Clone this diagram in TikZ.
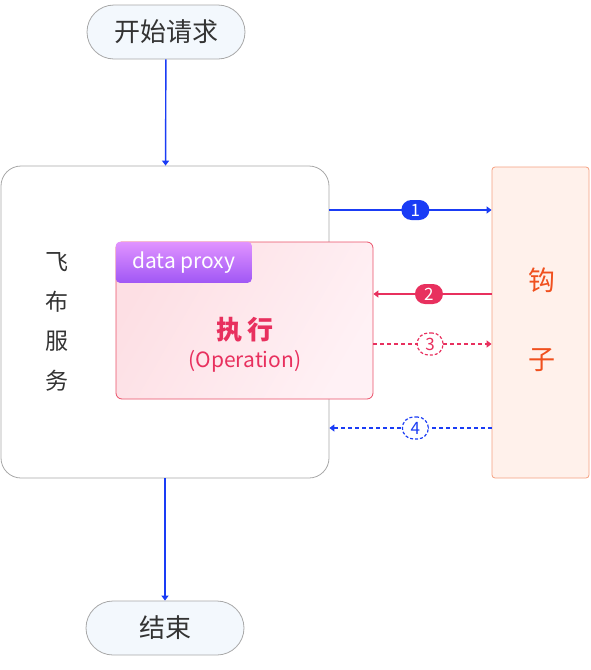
\documentclass[tikz,border=0pt]{standalone}
\usepackage{fontspec}
\setmainfont{Noto Sans CJK SC}
\usetikzlibrary{arrows.meta,positioning}
\definecolor{grayline}{HTML}{A8A8A8}
\definecolor{pillfill}{HTML}{F3F8FD}
\definecolor{darktext}{HTML}{333333}
\definecolor{flowblue}{HTML}{1A3CF5}
\definecolor{flowred}{HTML}{E8305E}
\definecolor{execline}{HTML}{EA5068}
\definecolor{pinkleft}{HTML}{FDDFE4}
\definecolor{pinkright}{HTML}{FFF1F5}
\definecolor{purpletop}{HTML}{E193FF}
\definecolor{purplebot}{HTML}{A057F5}
\definecolor{hookfill}{HTML}{FFF1EB}
\definecolor{hookline}{HTML}{F5A080}
\definecolor{hooktext}{HTML}{F0501E}

\begin{document}
\begin{tikzpicture}[x=1pt,y=-1pt,
  pill/.style={draw=grayline,line width=0.8pt,fill=pillfill,rounded corners=27pt,
    minimum width=158pt,minimum height=54pt,text=darktext,font=\fontsize{26}{30}\selectfont},
  flow/.style={line width=1.4pt,-{Triangle[length=5pt,width=7pt]}},
  badge/.style={rounded corners=10pt,minimum width=28pt,minimum height=20pt,inner sep=0pt,
    text=white,font=\fontsize{17}{18}\selectfont},
  dashbadge/.style={badge,draw,dash pattern=on 3pt off 2pt,line width=1.2pt,fill=white,
    minimum width=26pt,minimum height=22pt,rounded corners=11pt}]
\useasboundingbox (0,0) rectangle (590,670);
% start / end
\node[pill] (start) at (166,32) {开始请求};
\node[pill] (finish) at (165,628) {结束};
% service box
\node[draw=grayline,line width=0.8pt,fill=white,rounded corners=20pt,
  minimum width=328pt,minimum height=312pt] (svc) at (165,322) {};
\node[text=darktext,align=center,font=\fontsize{23}{39.7}\selectfont] (svcname) at (57,322) {飞\\布\\服\\务};
\node[draw=execline,line width=0.8pt,left color=pinkleft,right color=pinkright,shading angle=60,rounded corners=6pt,
  minimum width=257pt,minimum height=157pt] (exec) at (244.5,320.5) {};
\node[anchor=north west,top color=purpletop,bottom color=purplebot,rounded corners=4pt,
  minimum width=136pt,minimum height=41pt,text=white,font=\fontsize{21}{24}\selectfont] (proxy) at (exec.north west) {data proxy};
\node[text=flowred,font=\fontsize{26}{28}\selectfont\bfseries] (exectitle) at (245,330) {执\,行};
\node[text=flowred,font=\fontsize{21}{24}\selectfont] (execsub) at (245,361) {(Operation)};
% hook
\node[draw=hookline,line width=0.8pt,fill=hookfill,rounded corners=3pt,
  minimum width=97pt,minimum height=311pt] (hook) at (540.5,322.5) {};
\node[text=hooktext,align=center,font=\fontsize{27}{79}\selectfont] (hookname) at (542,320) {钩\\子};
% arrows
\draw[flow,flowblue] (start) -- (svc);
\draw[flow,flowblue] (svc) -- (finish);
\draw[flow,flowblue] (svc.east |- 0,210) -- node[pos=0.53,badge,fill=flowblue] {1} (hook.west |- 0,210);
\draw[flow,flowred] (hook.west |- 0,294) -- node[pos=0.53,badge,fill=flowred] {2} (exec.east |- 0,294);
\draw[flow,flowred,dash pattern=on 4pt off 3pt] (exec.east |- 0,344) -- node[pos=0.48,dashbadge,text=flowred] {3} (hook.west |- 0,344);
\draw[flow,flowblue,dash pattern=on 4pt off 3pt] (hook.west |- 0,428) -- node[pos=0.47,dashbadge,text=flowblue] {4} (svc.east |- 0,428);
\end{tikzpicture}
\end{document}
